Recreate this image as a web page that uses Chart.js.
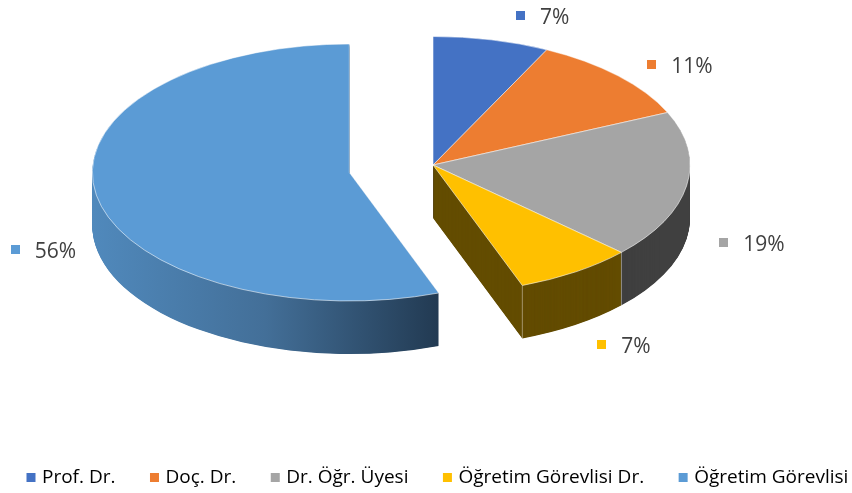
<!DOCTYPE html>
<html>
<head>
<meta charset="utf-8">
<script src="https://cdn.jsdelivr.net/npm/chart.js@4"></script>
<style>
  html, body { margin: 0; padding: 0; background: #fff; overflow: hidden; }
  #wrap { position: absolute; left: -8px; top: 0; width: 900px; height: 493px; }
</style>
</head>
<body>
<div id="wrap"><canvas id="chart" width="900" height="493"></canvas></div>
<script>
let categories = ['Prof. Dr.', 'Doç. Dr.', 'Dr. Öğr. Üyesi', 'Öğretim Görevlisi Dr.', 'Öğretim Görevlisi'];
let values = [7.3, 11, 18.6, 7.45, 55.65];
let colors = ['#4472c4', '#ed7d31', '#a5a5a5', '#ffc000', '#5b9bd5'];
let wallColors = ['#29446f', '#8e4b1d', '#404040', '#634c00', null];

// fake 3d settings
let pieRadius = 257;
let pieCenter = { x: 441, y: 165 };
let squash = 0.5;
let depth = 53;
let explode = [0, 0, 0, 0, 85];
let labelNudge = [[18, 2], [-3, 8], [-13, 54], [-2, 53], [-30, 51]];

let total = values.reduce((a, b) => a + b, 0);

// arc draw trims the angle of an offset slice by this much on each side
function angleTrim(i) {
    return explode[i] / (2 * Math.PI * pieRadius);
}

function sideShift(el, i) {
    let mid = (el.startAngle + el.endAngle) / 2;
    return { x: Math.cos(mid) * explode[i], y: Math.sin(mid) * explode[i] };
}

let pie3d = {
    id: 'pie3d',
    afterDatasetsUpdate(chart) {
        // arc draw also adds offset/4 to the radius of big slices, take both back
        chart.getDatasetMeta(0).data.forEach((el, i) => {
            if (explode[i]) {
                el.outerRadius = pieRadius - explode[i];
                el.startAngle -= angleTrim(i);
                el.endAngle += angleTrim(i);
            }
        });
    },
    beforeDatasetDraw(chart, args) {
        let ctx = chart.ctx;
        let arcs = args.meta.data;
        ctx.save();
        ctx.translate(pieCenter.x - arcs[0].x, pieCenter.y);
        ctx.scale(1, squash);
        ctx.translate(0, -arcs[0].y);

        arcs.forEach((el, i) => {
            let s = sideShift(el, i);
            let x = el.x + s.x, y = el.y + s.y;
            let start = el.startAngle + angleTrim(i);
            let end = el.endAngle - angleTrim(i);
            let fill = wallColors[i];
            if (!fill) {
                let g = ctx.createLinearGradient(x - pieRadius, 0, x + Math.cos(start) * pieRadius, 0);
                g.addColorStop(0, '#5089bc');
                g.addColorStop(0.5, '#436f98');
                g.addColorStop(1, '#223a52');
                fill = g;
            }
            ctx.fillStyle = fill;
            for (let d = depth * 2; d > 0; d--) {
                ctx.beginPath();
                ctx.moveTo(x, y + d);
                ctx.arc(x, y + d, pieRadius, start, end);
                ctx.closePath();
                ctx.fill();
            }
        });

        // light seams on the wall corners
        ctx.strokeStyle = 'rgba(255,255,255,0.55)';
        ctx.lineWidth = 1;
        [2, 3].forEach(i => {
            let el = arcs[i];
            let px = el.x + Math.cos(el.endAngle) * pieRadius;
            let py = el.y + Math.sin(el.endAngle) * pieRadius;
            ctx.beginPath();
            ctx.moveTo(px, py);
            ctx.lineTo(px, py + depth * 2);
            ctx.stroke();
        });
    },
    afterDatasetDraw(chart) {
        chart.ctx.restore();
    },
    afterDraw(chart) {
        let ctx = chart.ctx;
        let arcs = chart.getDatasetMeta(0).data;
        ctx.save();
        ctx.font = '21px "Open Sans"';
        ctx.textBaseline = 'middle';
        ctx.textAlign = 'left';
        arcs.forEach((el, i) => {
            let mid = (el.startAngle + el.endAngle) / 2;
            let s = sideShift(el, i);
            let x = pieCenter.x + s.x + Math.cos(mid) * pieRadius * 1.2 + labelNudge[i][0];
            let y = pieCenter.y + (s.y + Math.sin(mid) * pieRadius * 1.2) * squash + labelNudge[i][1];
            ctx.fillStyle = colors[i];
            ctx.fillRect(Math.round(x) - 5, Math.round(y) - 6, 9, 9);
            ctx.fillStyle = '#404040';
            ctx.fillText(Math.round(values[i] / total * 100) + '%', x + 19, y + 1);
        });
        ctx.restore();
    }
};

let chart = new Chart(document.getElementById('chart').getContext('2d'), {
    type: 'pie',
    data: {
        labels: categories,
        datasets: [{
            data: values,
            backgroundColor: colors,
            borderColor: 'rgba(255,255,255,0.75)',
            borderWidth: 1,
            offset: explode.map(v => v * 4),
            clip: false
        }]
    },
    plugins: [pie3d],
    options: {
        responsive: false,
        animation: false,
        events: [],
        radius: pieRadius,
        layout: { padding: { bottom: -4 } },
        plugins: {
            tooltip: { enabled: false },
            legend: {
                position: 'bottom',
                align: 'start',
                labels: {
                    boxWidth: 3,
                    boxHeight: 3,
                    padding: 37.5,
                    color: '#404040',
                    font: { family: '"Open Sans"', size: 19 },
                    generateLabels: () => categories.map((c, i) => ({
                        text: c,
                        fillStyle: colors[i],
                        strokeStyle: colors[i],
                        lineWidth: 6,
                        index: i
                    }))
                }
            }
        }
    }
});
</script>
</body>
</html>
